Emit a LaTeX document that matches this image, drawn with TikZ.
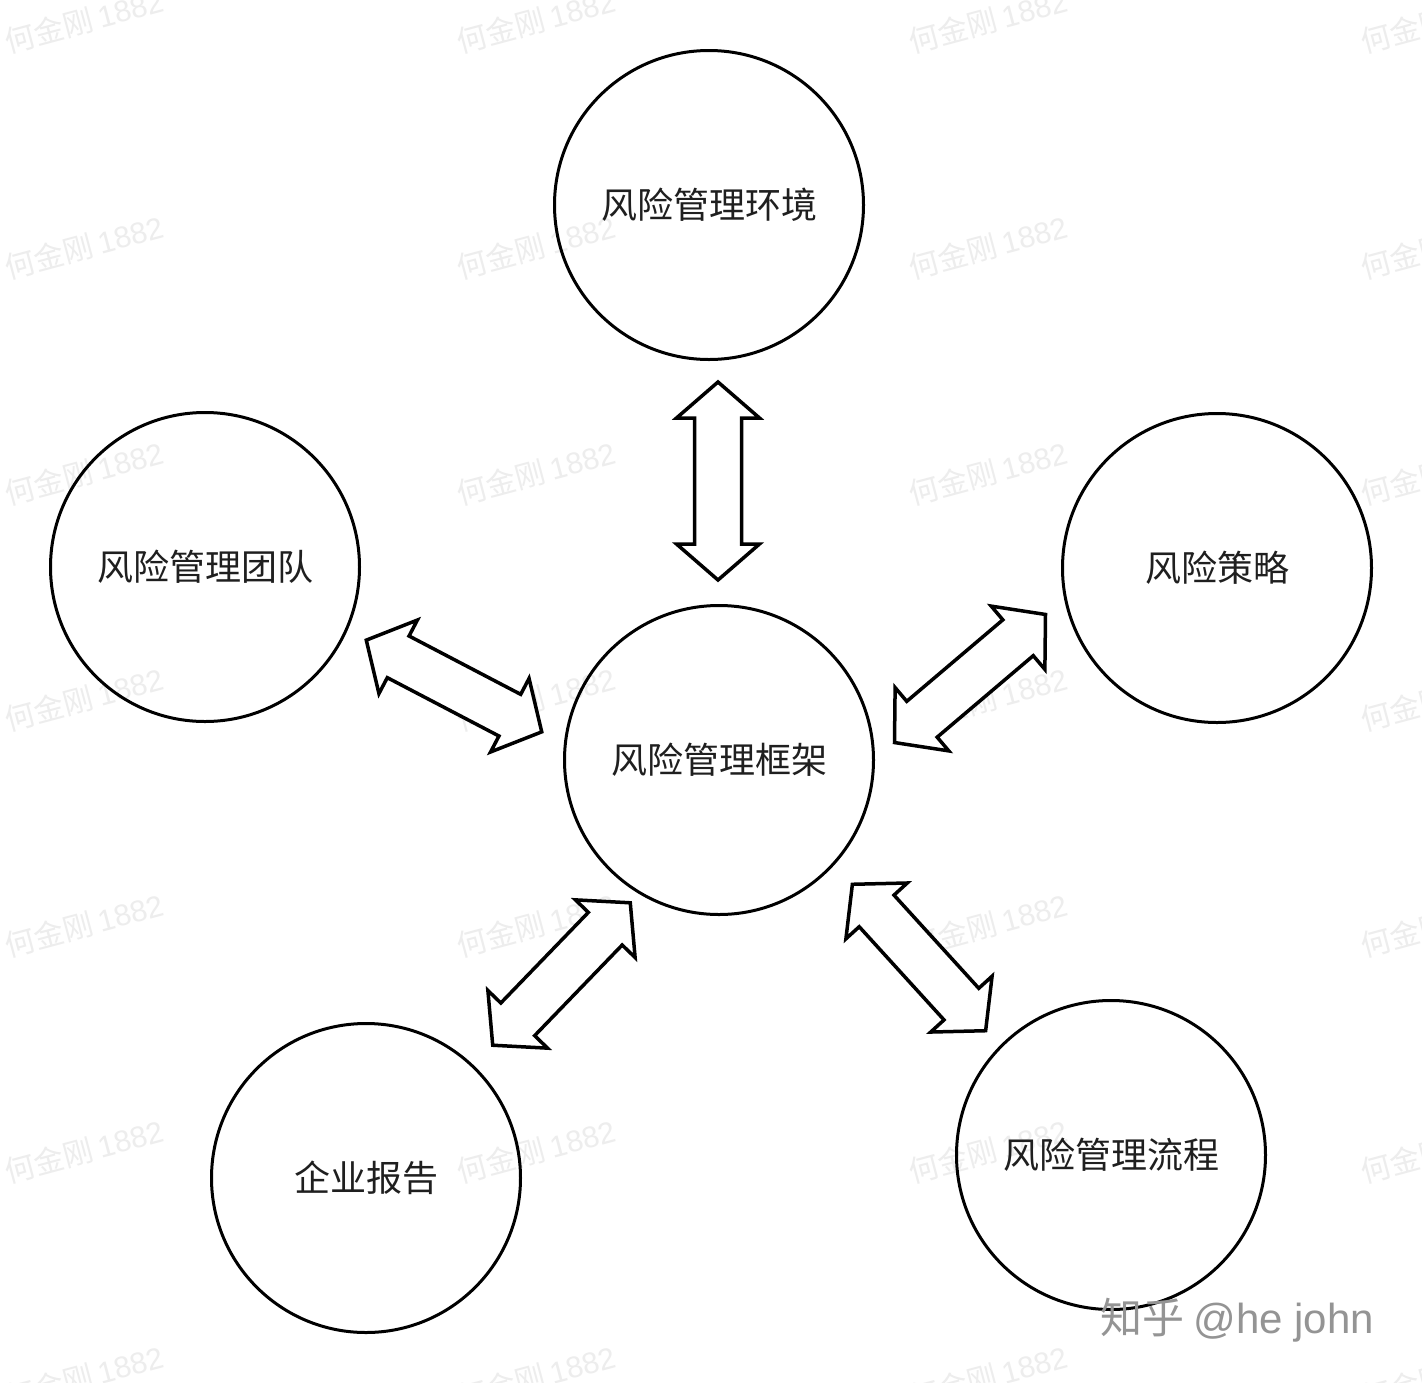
\documentclass[tikz,border=0pt]{standalone}
\usepackage{fontspec}
\setmainfont{Noto Sans CJK SC}
\newfontfamily\cjk{Noto Sans CJK SC}
\newfontfamily\wmlat{Liberation Sans}
\begin{document}
\begin{tikzpicture}[x=1pt,y=1pt,
  bubble/.style={circle,draw=black,line width=3pt,minimum size=309pt,inner sep=0pt,
    font=\cjk\fontsize{36}{40}\selectfont,text=black!88},
  wm/.style={text=black!7,font=\cjk\fontsize{30}{34}\selectfont,rotate=15,inner sep=0pt},
  dblarrow/.pic={
    \draw[line width=3.5pt,line join=miter,fill=white]
      (-99,0) -- (-63,41.5) -- (-63,23.5) -- (63,23.5) -- (63,41.5) -- (99,0)
      -- (63,-41.5) -- (63,-23.5) -- (-63,-23.5) -- (-63,-41.5) -- cycle;
  }]
\useasboundingbox (0,0) rectangle (1422,-1382);
\fill[white] (0,0) rectangle (1422,-1382);
% watermarks
\foreach \r in {0,...,6}{
  \foreach \c in {0,...,3}{
    \node[wm,anchor=west] (wm-\r-\c) at ({5+452*\c},{-42-226*\r}) {何金刚 {\wmlat 1882}};
  }
}
% circles
\node[bubble] (env) at (709,-205) {风险管理环境};
\node[bubble] (team) at (205,-567) {风险管理团队};
\node[bubble] (strat) at (1217,-568) {风险策略};
\node[bubble] (frame) at (719,-760) {风险管理框架};
\node[bubble] (report) at (366,-1178) {企业报告};
\node[bubble] (proc) at (1111,-1155) {风险管理流程};
% double arrows
\pic[rotate=90] (a-env) at (718,-481) {dblarrow};
\pic[rotate=-27.6] (a-team) at (454,-686) {dblarrow};
\pic[rotate=40.3] (a-strat) at (970,-678.5) {dblarrow};
\pic[rotate=46] (a-report) at (561.5,-974) {dblarrow};
\pic[rotate=-47.7] (a-proc) at (919,-957.5) {dblarrow};
% site watermark
\node[anchor=west,inner sep=0pt,text=black!42,font=\cjk\fontsize{42}{46}\selectfont] (zh) at (1100,-1320) {知乎 {\wmlat @he john}};
\end{tikzpicture}
\end{document}
